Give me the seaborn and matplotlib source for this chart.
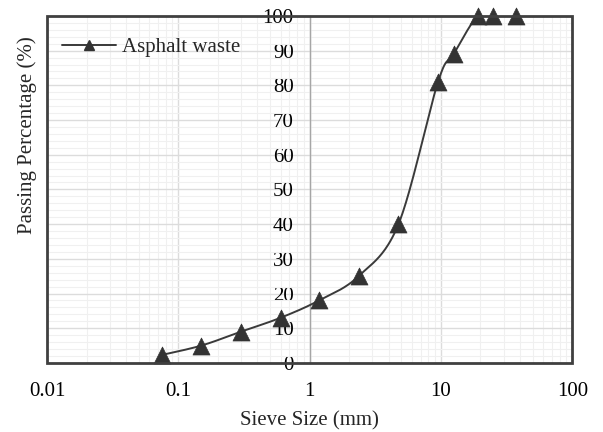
import numpy as np
import pandas as pd
import seaborn as sns
import matplotlib.pyplot as plt
from matplotlib.lines import Line2D
from matplotlib.patches import Rectangle
from matplotlib.ticker import FixedLocator, MultipleLocator, NullFormatter

sieve_mm = [0.075, 0.15, 0.3, 0.6, 1.18, 2.36, 4.75, 9.5, 12.5, 19, 25, 37.5]
passing = [2.3, 5, 9, 13, 18, 25, 40, 81, 89, 100, 100, 100]
x_ticks = [0.01, 0.1, 1, 10, 100]
x_tick_labels = ["0.01", "0.1", "1", "10", "100"]
y_ticks = list(range(0, 101, 10))


def smooth_path(xs, ys, n=40):
    # Catmull-Rom curve through the points, in log-x space (like Excel's smoothed line)
    lx = np.log10(xs)
    y = np.asarray(ys, float)
    px = np.concatenate([[lx[0]], lx, [lx[-1]]])
    py = np.concatenate([[y[0]], y, [y[-1]]])
    outx, outy = [], []
    for i in range(1, len(px) - 2):
        t = np.linspace(0, 1, n)
        p0, p1, p2, p3 = [np.array([px[k], py[k]]) for k in (i - 1, i, i + 1, i + 2)]
        c1 = p1 + (p2 - p0) / 6
        c2 = p2 - (p3 - p1) / 6
        b = ((1 - t) ** 3)[:, None] * p1 + (3 * (1 - t) ** 2 * t)[:, None] * c1 \
            + (3 * (1 - t) * t ** 2)[:, None] * c2 + (t ** 3)[:, None] * p2
        outx.extend(b[:, 0])
        outy.extend(b[:, 1])
    return 10 ** np.array(outx), np.array(outy)


df = pd.DataFrame({"Sieve": sieve_mm, "Passing": passing})

sns.set_theme(style="white")
plt.rcParams["font.family"] = ["Liberation Serif", "DejaVu Serif"]

fig = plt.figure(figsize=(6.03, 4.32), dpi=100)
ax = fig.add_axes([0.078, 0.16, 0.871, 0.803])

line_col = "#3a3a3a"
sx, sy = smooth_path(sieve_mm, passing)
ax.plot(sx, sy, color=line_col, lw=1.4, zorder=3)
sns.scatterplot(data=df, x="Sieve", y="Passing", marker="^", s=150, color="#333333",
                edgecolor="#333333", linewidth=0.5, ax=ax, zorder=4, clip_on=False, legend=False)

ax.set_xscale("log")
ax.set_xlim(0.01, 100)
ax.set_ylim(0, 100)

ax.set_xticks(x_ticks)
ax.set_xticklabels(x_tick_labels)
ax.xaxis.set_minor_locator(FixedLocator([m * d for d in x_ticks[:-1] for m in range(2, 10)]))
ax.xaxis.set_minor_formatter(NullFormatter())
ax.set_yticks(y_ticks)
ax.yaxis.set_minor_locator(MultipleLocator(2))

ax.grid(which="major", color="#dcdcdc", lw=1.0)
ax.grid(which="minor", color="#f0f0f0", lw=0.8)
ax.set_axisbelow(True)

for s in ["top", "right", "bottom"]:
    ax.spines[s].set_visible(False)
ax.spines["left"].set_position(("data", 1))
ax.spines["left"].set_color("#a6a6a6")
ax.spines["left"].set_linewidth(1.0)
ax.add_patch(Rectangle((0, 0), 1, 1, transform=ax.transAxes, fill=False,
                       ec="#404040", lw=2, clip_on=False, zorder=5))

ax.tick_params(axis="both", which="both", length=0, labelsize=15, colors="black")
ax.tick_params(axis="x", pad=14)
ax.tick_params(axis="y", pad=11.5)

ax.set_xlabel("Sieve Size (mm)", fontsize=15, labelpad=7)
ax.set_ylabel("Passing Percentage (%)", fontsize=15)
ax.yaxis.set_label_coords(-0.019, 0.657)

handle = Line2D([], [], color=line_col, lw=1.4, marker="^", markersize=7,
                markerfacecolor="#333333", markeredgecolor="#333333")
ax.legend([handle], ["Asphalt waste"], loc="upper left", frameon=False, fontsize=15,
          handlelength=2.6, handletextpad=0.3, borderaxespad=0.3,
          bbox_to_anchor=(0.0, 0.98))

fig.savefig("out.png", dpi=100)
